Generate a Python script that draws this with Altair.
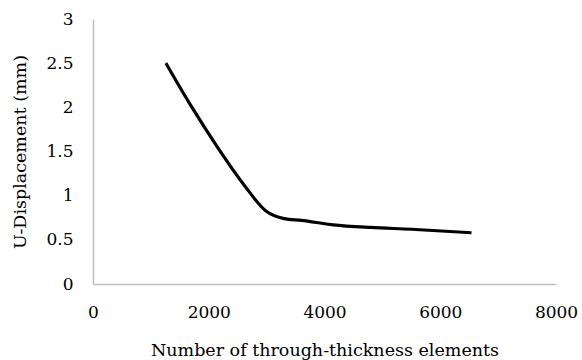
import altair as alt
import pandas as pd

# Mesh convergence: displacement vs. number of through-thickness elements
elements = [1260, 1700, 2150, 2600, 3000, 3300, 3600, 4150, 4800, 5500, 6540]
u_disp = [2.50, 2.01, 1.55, 1.13, 0.82, 0.74, 0.72, 0.67, 0.64, 0.62, 0.58]

x_ticks = [0, 2000, 4000, 6000, 8000]
y_ticks = [0, 0.5, 1, 1.5, 2, 2.5, 3]

df = pd.DataFrame({"elements": elements, "u": u_disp})

FONT = "DejaVu Serif"
AXIS_GREY = "#BFBFBF"

chart = (
    alt.Chart(df)
    .mark_line(color="black", strokeWidth=3.2, interpolate="monotone")
    .encode(
        x=alt.X(
            "elements:Q",
            scale=alt.Scale(domain=[0, 8000], nice=False),
            axis=alt.Axis(
                values=x_ticks,
                format="d",
                title="Number of through-thickness elements",
                titlePadding=21,
                labelPadding=20,
            ),
        ),
        y=alt.Y(
            "u:Q",
            scale=alt.Scale(domain=[0, 3], nice=False),
            axis=alt.Axis(
                values=y_ticks,
                format="~g",
                title="U-Displacement (mm)",
                titlePadding=16,
                labelPadding=20,
            ),
        ),
    )
    .properties(
        width=463,
        height=265,
        autosize=alt.AutoSizeParams(type="none"),
        padding={"left": 93, "top": 19, "right": 26, "bottom": 76},
    )
    .configure_view(stroke=None)
    .configure_axis(
        grid=False,
        ticks=False,
        domainColor=AXIS_GREY,
        domainWidth=1.5,
        labelFont=FONT,
        labelFontSize=17,
        labelColor="black",
        titleFont=FONT,
        titleFontSize=17.5,
        titleFontWeight="normal",
        titleColor="black",
        labelFlush=False,
        labelOverlap=False,
    )
)

chart.save("out.html", embed_options={"renderer": "svg", "actions": False})
